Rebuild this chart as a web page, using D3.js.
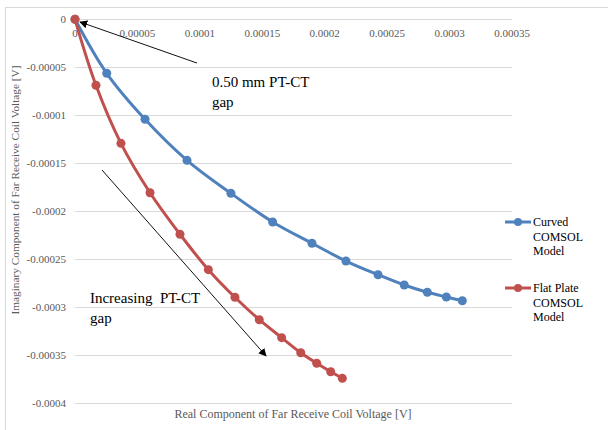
<!DOCTYPE html>
<html>
<head>
<meta charset="utf-8">
<script src="https://cdn.jsdelivr.net/npm/d3@7"></script>
<style>
  html, body { margin: 0; padding: 0; background: #fff; }
  svg { display: block; }
  text { font-family: "Liberation Serif", "Times New Roman", serif; }
</style>
</head>
<body>
<svg id="chart" width="608" height="430"></svg>
<script>
// ---- data ----
const curvedX = [0, 2.54e-5, 5.61e-5, 8.97e-5, 1.249e-4, 1.583e-4, 1.898e-4, 2.170e-4, 2.427e-4, 2.637e-4, 2.822e-4, 2.974e-4, 3.102e-4];
const curvedY = [0, -5.63e-5, -1.0425e-4, -1.470e-4, -1.814e-4, -2.113e-4, -2.335e-4, -2.520e-4, -2.663e-4, -2.770e-4, -2.846e-4, -2.895e-4, -2.934e-4];
const flatX = [0, 1.68e-5, 3.68e-5, 6.01e-5, 8.41e-5, 1.068e-4, 1.281e-4, 1.476e-4, 1.655e-4, 1.808e-4, 1.936e-4, 2.048e-4, 2.141e-4];
const flatY = [0, -6.88e-5, -1.293e-4, -1.808e-4, -2.241e-4, -2.610e-4, -2.898e-4, -3.132e-4, -3.319e-4, -3.476e-4, -3.586e-4, -3.674e-4, -3.743e-4];
const xTicks = [0, 0.00005, 0.0001, 0.00015, 0.0002, 0.00025, 0.0003, 0.00035];
const xTickLabels = ["0", "0.00005", "0.0001", "0.00015", "0.0002", "0.00025", "0.0003", "0.00035"];
const yTicks = [0, -0.00005, -0.0001, -0.00015, -0.0002, -0.00025, -0.0003, -0.00035, -0.0004];
const yTickLabels = ["0", "-0.00005", "-0.0001", "-0.00015", "-0.0002", "-0.00025", "-0.0003", "-0.00035", "-0.0004"];
const seriesNames = [["Curved", "COMSOL", "Model"], ["Flat Plate", "COMSOL", "Model"]];
const seriesColors = ["#4F81BD", "#C0504D"];
const xTitle = "Real Component of Far Receive Coil Voltage [V]";
const yTitle = "Imaginary Component of Far Receive Coil Voltage [V]";
// annotations (data units)
const arrow1 = [[9.77e-5, -4.56e-5], [4.0e-6, -2.8e-6]];
const arrow2 = [[2.16e-5, -1.571e-4], [1.53e-4, -3.51e-4]];
const note1 = { x: 1.097e-4, y: -7.06e-5, lines: ["0.50 mm PT-CT", "gap"] };
const note2 = { x: 1.2e-5, y: -2.958e-4, lines: ["Increasing  PT-CT", "gap"] };

// ---- layout ----
const svg = d3.select("#chart");
const x = d3.scaleLinear().domain([0, 0.00035]).range([75, 512]);
const y = d3.scaleLinear().domain([0, -0.0004]).range([19.3, 403]);

// outer frame
svg.append("rect").attr("x", 5.5).attr("y", 7.5).attr("width", 640).attr("height", 440)
  .attr("fill", "none").attr("stroke", "#D9D9D9").attr("stroke-width", 1);

// gridlines
svg.append("g").selectAll("line").data(yTicks).join("line")
  .attr("x1", x(0)).attr("x2", x(0.00035))
  .attr("y1", d => Math.round(y(d)) + 0.5).attr("y2", d => Math.round(y(d)) + 0.5)
  .attr("stroke", "#D9D9D9").attr("stroke-width", 1);

// y tick labels
svg.append("g").selectAll("text").data(yTicks).join("text")
  .attr("x", 66).attr("y", d => y(d)).attr("dy", "0.35em")
  .attr("text-anchor", "end").attr("font-size", 11).attr("fill", "#595959")
  .text((d, i) => yTickLabels[i]);

// x tick labels (under top axis)
svg.append("g").selectAll("text").data(xTicks).join("text")
  .attr("x", d => x(d)).attr("y", 33).attr("dy", "0.35em")
  .attr("text-anchor", "middle").attr("font-size", 11).attr("fill", "#595959")
  .text((d, i) => xTickLabels[i]);

// axis titles
svg.append("text").attr("x", 293).attr("y", 414).attr("dy", "0.35em")
  .attr("text-anchor", "middle").attr("font-size", 12).attr("fill", "#595959").text(xTitle);
svg.append("text").attr("transform", "translate(15,190) rotate(-90)").attr("dy", "0.35em")
  .attr("text-anchor", "middle").attr("font-size", 11.3).attr("fill", "#595959").text(yTitle);

// arrow marker
svg.append("defs").append("marker").attr("id", "ah")
  .attr("viewBox", "0 0 10 10").attr("refX", 9).attr("refY", 5)
  .attr("markerWidth", 8).attr("markerHeight", 8).attr("markerUnits", "userSpaceOnUse")
  .attr("orient", "auto")
  .append("path").attr("d", "M0,0 L10,5 L0,10 Z").attr("fill", "#000");

[arrow1, arrow2].forEach(a => {
  svg.append("line")
    .attr("x1", x(a[0][0])).attr("y1", y(a[0][1]))
    .attr("x2", x(a[1][0])).attr("y2", y(a[1][1]))
    .attr("stroke", "#111").attr("stroke-width", 1)
    .attr("marker-end", "url(#ah)");
});

// series
const series = [
  curvedX.map((v, i) => [v, curvedY[i]]),
  flatX.map((v, i) => [v, flatY[i]])
];
const line = d3.line().x(d => x(d[0])).y(d => y(d[1])).curve(d3.curveCatmullRom.alpha(0.5));
series.forEach((s, k) => {
  const g = svg.append("g");
  g.append("path").attr("d", line(s)).attr("fill", "none")
    .attr("stroke", seriesColors[k]).attr("stroke-width", 3).attr("stroke-linejoin", "round");
  g.selectAll("circle").data(s).join("circle")
    .attr("cx", d => x(d[0])).attr("cy", d => y(d[1])).attr("r", 4.5)
    .attr("fill", seriesColors[k]);
});

// annotation texts
[note1, note2].forEach(n => {
  const t = svg.append("text").attr("font-size", 15).attr("fill", "#000")
    .style("white-space", "pre");
  n.lines.forEach((l, i) => {
    t.append("tspan").attr("x", x(n.x)).attr("y", y(n.y) + i * 20).text(l);
  });
});

// legend
const legY = [222, 288];
seriesNames.forEach((names, k) => {
  const g = svg.append("g");
  g.append("line").attr("x1", 505).attr("x2", 531).attr("y1", legY[k]).attr("y2", legY[k])
    .attr("stroke", seriesColors[k]).attr("stroke-width", 3);
  g.append("circle").attr("cx", 518).attr("cy", legY[k]).attr("r", 4).attr("fill", seriesColors[k]);
  names.forEach((nm, i) => {
    g.append("text").attr("x", 533).attr("y", legY[k] + i * 14.5).attr("dy", "0.35em")
      .attr("font-size", 12).attr("fill", "#000").text(nm);
  });
});
</script>
</body>
</html>
